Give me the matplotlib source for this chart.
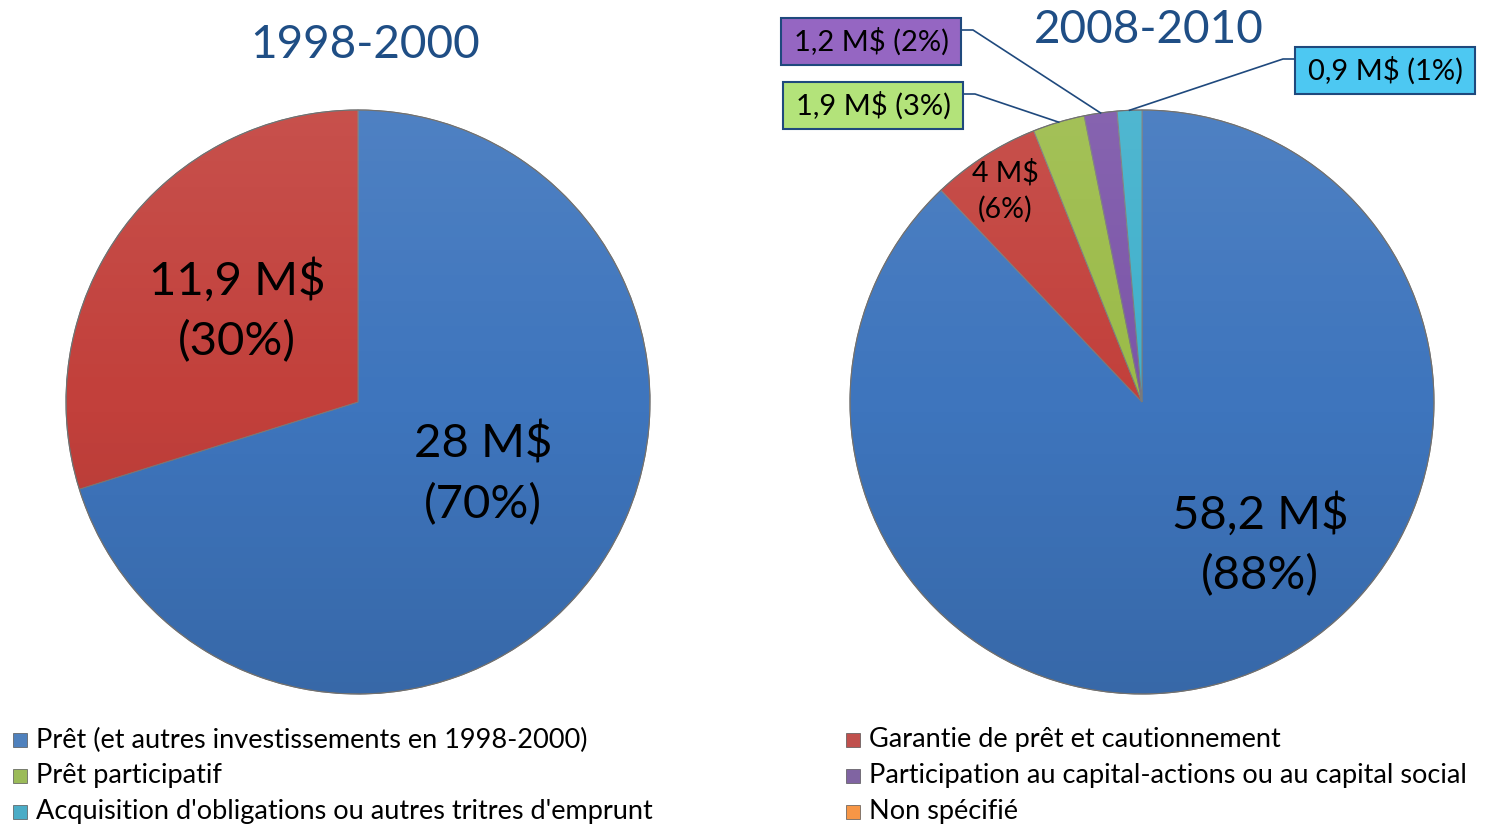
import matplotlib
matplotlib.use("Agg")
import matplotlib.pyplot as plt
from matplotlib.patches import Rectangle, Circle
from matplotlib.lines import Line2D
import numpy as np

plt.rcParams['font.family'] = ['Lato', 'DejaVu Sans']
plt.rcParams['text.parse_math'] = False

W, H = 1485, 826

# ---------------- data ----------------
categories = [
    "Prêt (et autres investissements en 1998-2000)",
    "Garantie de prêt et cautionnement",
    "Prêt participatif",
    "Participation au capital-actions ou au capital social",
    "Acquisition d'obligations ou autres tritres d'emprunt",
    "Non spécifié",
]
legend_colors = ["#4F81BD", "#C0504D", "#9BBB59", "#8064A2", "#4BACC6", "#F79646"]
slice_colors = ["#3E75BD", "#C2403B", "#9BBB48", "#7B55A8", "#3FB0CC", "#F79646"]

period_left = "1998-2000"
values_left = [28, 11.9]
pct_left = [70, 30]

period_right = "2008-2010"
values_right = [58.2, 4, 1.9, 1.2, 0.9]
pct_right = [88, 6, 3, 2, 1]

TITLE_COLOR = "#1F4E85"
LINE_COLOR = "#1F497D"


def fmt(v):
    return f"{v:g}".replace(".", ",") + " M$"


def fx(x):
    return x / W


def fy(y):
    return 1 - y / H


fig = plt.figure(figsize=(W / 100, H / 100), dpi=100)

R = 292
M = 1.06


def pie_axes(cx, cy):
    ax = fig.add_axes([(cx - R * M) / W, 1 - (cy + R * M) / H, 2 * R * M / W, 2 * R * M / H])
    ax.axis('off')
    return ax


def finish(ax):
    ax.set_xlim(-M, M)
    ax.set_ylim(-M, M)
    ax.set_aspect('equal')
    ax.axis('off')
    # soft shading: lighter at top, darker at bottom
    g = np.linspace(1, 0, 256)[:, None]
    rgba = np.zeros((256, 2, 4))
    top = g > 0.5
    rgba[..., :3] = np.where(top[..., None], 1.0, 0.0)
    rgba[..., 3] = np.where(top, (g - 0.5) * 0.18, (0.5 - g) * 0.22)
    im = ax.imshow(rgba, extent=[-1, 1, -1, 1], origin='upper', zorder=5,
                   interpolation='bilinear', aspect='auto')
    circ = Circle((0, 0), 1, transform=ax.transData)
    im.set_clip_path(circ)
    # rim
    ax.add_patch(Circle((0, 0), 1, fill=False, edgecolor='#707070', linewidth=0.8, zorder=6))


def d(px, py, cx, cy):
    return ((px - cx) / R, (cy - py) / R)


WEDGE = dict(edgecolor="#7a7a7a", linewidth=0.7)

# ---------------- left pie ----------------
cxL, cyL = 358, 402
axL = pie_axes(cxL, cyL)
axL.pie(values_left, colors=slice_colors[:len(values_left)], startangle=90,
        counterclock=False, radius=1, wedgeprops=WEDGE)
finish(axL)
fig.text(fx(365), fy(45), period_left, ha='center', va='center',
         fontsize=33, color=TITLE_COLOR)
left_label_pos = [(483, 474), (237, 311)]
for v, p, (px, py) in zip(values_left, pct_left, left_label_pos):
    x, y = d(px, py, cxL, cyL)
    axL.text(x, y, f"{fmt(v)}\n({p}%)", ha='center', va='center',
             fontsize=34, color='black', linespacing=1.5, zorder=10)

# ---------------- right pie ----------------
cxR, cyR = 1142, 402
axR = pie_axes(cxR, cyR)
wedges, _ = axR.pie(values_right, colors=slice_colors[:len(values_right)], startangle=90,
                    counterclock=False, radius=1, wedgeprops=WEDGE)
finish(axR)
fig.text(fx(1149), fy(30), period_right, ha='center', va='center',
         fontsize=33, color=TITLE_COLOR)

# inside labels
x, y = d(1260, 545, cxR, cyR)
axR.text(x, y, f"{fmt(values_right[0])}\n({pct_right[0]}%)", ha='center', va='center',
         fontsize=34, color='black', linespacing=1.5, zorder=10)
x, y = d(1005, 191, cxR, cyR)
axR.text(x, y, f"{fmt(values_right[1])}\n({pct_right[1]}%)", ha='center', va='center',
         fontsize=20.5, color='black', linespacing=1.45, zorder=10)

# callouts for small slices: (box left, top, right, bottom, side)
box_fill = {2: "#B3E37A", 3: "#9566C2", 4: "#4DC8F2"}
boxes = {2: (783, 82, 963, 129, 'right'),
         3: (781, 18, 961, 65, 'right'),
         4: (1295, 47, 1475, 94, 'left')}
for i in (2, 3, 4):
    w = wedges[i]
    mid = np.deg2rad((w.theta1 + w.theta2) / 2)
    ex = cxR + R * np.cos(mid)
    ey = cyR - R * np.sin(mid)
    l, t, r_, b, side = boxes[i]
    fig.patches.append(Rectangle((fx(l), fy(b)), (r_ - l) / W, (b - t) / H,
                                 transform=fig.transFigure, facecolor=box_fill[i],
                                 edgecolor=LINE_COLOR, linewidth=1.5, zorder=3))
    fig.text(fx((l + r_) / 2), fy((t + b) / 2), f"{fmt(values_right[i])} ({pct_right[i]}%)",
             ha='center', va='center', fontsize=21, color='black', zorder=4)
    ly = t + 12
    if side == 'right':
        xs = [r_, r_ + 12, ex]
    else:
        xs = [l, l - 12, ex]
    ys = [ly, ly, ey]
    fig.lines.append(Line2D([fx(v) for v in xs], [fy(v) for v in ys],
                            transform=fig.transFigure, color=LINE_COLOR, linewidth=1.2, zorder=2))

# ---------------- legend ----------------
col_x = [13, 846]
row_y = [740, 776, 812]
for k, (lab, col) in enumerate(zip(categories, legend_colors)):
    row, c = divmod(k, 2)
    mx, my = col_x[c], row_y[row]
    fig.patches.append(Rectangle((fx(mx), fy(my + 7)), 14 / W, 14 / H,
                                 transform=fig.transFigure, facecolor=col,
                                 edgecolor='#555555', linewidth=0.5))
    fig.text(fx(mx + 23), fy(my), lab, ha='left', va='center', fontsize=19.5, color='black')

fig.savefig("out.png", dpi=100)
